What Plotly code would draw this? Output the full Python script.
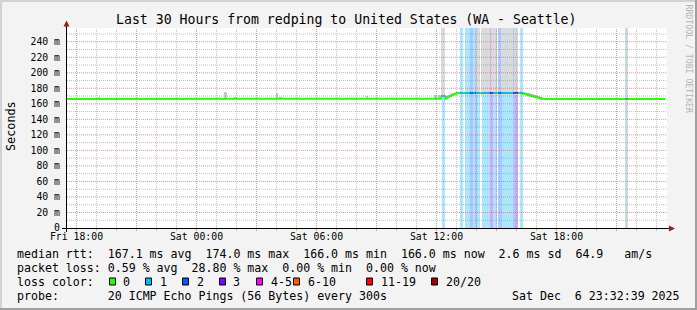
import plotly.graph_objects as go
from datetime import datetime, timedelta

# ---------------- data ----------------
x_range = ["2025-12-05 17:31:30", "2025-12-06 23:31:30"]
y_max_ms = 257.7

y_tick_vals = [0, 20, 40, 60, 80, 100, 120, 140, 160, 180, 200, 220, 240]
y_tick_text = ["0", "20 m", "40 m", "60 m", "80 m", "100 m", "120 m", "140 m",
               "160 m", "180 m", "200 m", "220 m", "240 m"]

x_tick_vals = ["2025-12-05 18:00", "2025-12-05 21:00", "2025-12-06 00:00", "2025-12-06 03:00",
               "2025-12-06 06:00", "2025-12-06 09:00", "2025-12-06 12:00", "2025-12-06 15:00",
               "2025-12-06 18:00", "2025-12-06 21:00"]
x_tick_text = ["Fri 18:00", "", "Sat 00:00", "", "Sat 06:00", "", "Sat 12:00", "", "Sat 18:00", ""]

# median rtt (ms)
median_times = ["2025-12-05 17:30", "2025-12-06 12:10", "2025-12-06 12:13", "2025-12-06 12:15",
                "2025-12-06 12:25", "2025-12-06 12:27", "2025-12-06 12:33", "2025-12-06 12:45",
                "2025-12-06 12:57", "2025-12-06 13:03", "2025-12-06 16:09", "2025-12-06 16:18",
                "2025-12-06 16:33", "2025-12-06 16:48", "2025-12-06 17:03", "2025-12-06 17:15",
                "2025-12-06 17:25", "2025-12-06 23:27"]
median_ms = [166.3, 166.3, 166.5, 170.0, 170.0, 166.5, 168.0, 170.5, 172.6, 174.0, 174.0,
             173.5, 171.5, 169.5, 168.0, 166.5, 166.3, 166.3]

# 5-minute steps with packet loss (Sat Dec 6)
loss_step_times = ["12:15", "12:20", "13:10", "13:15", "13:25", "13:30", "13:35", "13:40",
                   "13:45", "13:50", "13:55", "14:00", "14:05", "14:15", "14:20", "14:25",
                   "14:30", "14:35", "14:40", "14:45", "14:50", "14:55", "15:05", "15:10",
                   "15:15", "15:20", "15:25", "15:30", "15:35", "15:40", "15:45", "15:50",
                   "15:55", "16:00", "16:10", "16:15", "21:25", "21:30"]
loss_pings = [1, 1, 1, 1, 1, 1, 1, 2, 2, 1, 2, 1, 1, 1, 1, 1, 1, 1, 3, 3, 1, 1, 2, 2,
              1, 1, 1, 1, 1, 1, 1, 2, 3, 3, 1, 1, 1, 6]
loss_line_ms = [170.0, 170.0, 174.0, 174.0, 174.0, 174.0, 174.0, 174.0, 174.0, 174.0, 174.0,
                174.0, 174.0, 174.0, 174.0, 174.0, 174.0, 174.0, 174.0, 174.0, 174.0, 174.0,
                174.0, 174.0, 174.0, 174.0, 174.0, 174.0, 174.0, 174.0, 174.0, 174.0, 174.0,
                174.0, 174.0, 173.7, 166.3, 166.3]

# smoke reaching beyond the top of the graph (Sat Dec 6)
smoke_top_times = ["12:15", "12:20", "14:00", "14:05", "14:15", "14:20", "14:25", "14:30",
                   "14:35", "14:45", "14:50", "14:55", "15:15", "15:20", "15:25", "15:35",
                   "15:40", "15:45", "15:55", "16:00"]
smoke_top_base_ms = 171.0

# small smoke spikes in the quiet period
spike_times = ["2025-12-05 19:05", "2025-12-06 01:25", "2025-12-06 01:55", "2025-12-06 04:00",
               "2025-12-06 04:10", "2025-12-06 08:30", "2025-12-06 11:55", "2025-12-06 12:05"]
spike_top_ms = [168.5, 175.6, 169.0, 174.5, 169.0, 170.0, 171.0, 171.0]
spike_base_ms = 166.3

# smoke band around the median on the ramps (Sat Dec 6)
band1_times = ["12:25", "12:30", "12:35", "12:45", "12:55", "13:05"]
band1_lo = [165.5, 166.5, 167.0, 169.0, 171.0, 173.0]
band1_hi = [169.5, 170.0, 171.0, 173.0, 175.0, 176.0]
band2_times = ["16:10", "16:20", "16:35", "16:50", "17:05", "17:20"]
band2_lo = [173.0, 172.0, 170.0, 168.0, 166.5, 165.8]
band2_hi = [176.0, 175.5, 174.0, 172.0, 170.0, 168.0]

loss_bounds = [0, 1, 2, 3, 5, 10, 19, 20]
loss_labels = ["0", "1", "2", "3", "4-5", "6-10", "11-19", "20/20"]
loss_colors = ["#26ff00", "#00b8ff", "#0059ff", "#7e00ff", "#ff00ff", "#ff5500", "#ff0000", "#a00000"]

stats_line1 = "median rtt:  167.1 ms avg  174.0 ms max  166.0 ms min  166.0 ms now  2.6 ms sd  64.9   am/s"
stats_line2 = "packet loss: 0.59 % avg  28.80 % max  0.00 % min  0.00 % now"
probe_line = "probe:       20 ICMP Echo Pings (56 Bytes) every 300s"
date_line = "Sat Dec  6 23:32:39 2025"
title_text = "Last 30 Hours from redping to United States (WA - Seattle)"

# ---------------- helpers ----------------
DAY = "2025-12-06 "
STEP_MS = 300000
MONO = "DejaVu Sans Mono"


def loss_color(n):
    for b, c in zip(loss_bounds, loss_colors):
        if n <= b:
            return c
    return loss_colors[-1]


def rgba(hexc, a):
    h = hexc.lstrip("#")
    return "rgba(%d,%d,%d,%.3f)" % (int(h[0:2], 16), int(h[2:4], 16), int(h[4:6], 16), a)


def ax(px):
    return (px - 67) / 600.0


def ay(py):
    return (228 - py) / 200.0


def nb(s):
    return s.replace(" ", "\u00a0")


fig = go.Figure()

# loss background bars
fig.add_trace(go.Bar(
    x=[DAY + t for t in loss_step_times],
    y=[y_max_ms] * len(loss_step_times),
    base=0, width=STEP_MS, offset=0,
    marker=dict(color=[rgba(loss_color(n), 0x55 / 255) for n in loss_pings], line=dict(width=0)),
    hoverinfo="skip"))

# smoke to the top
fig.add_trace(go.Bar(
    x=[DAY + t for t in smoke_top_times],
    y=[y_max_ms - smoke_top_base_ms] * len(smoke_top_times),
    base=smoke_top_base_ms, width=STEP_MS, offset=0,
    marker=dict(color="#dadada", line=dict(width=0)), hoverinfo="skip"))

# smoke spikes
fig.add_trace(go.Bar(
    x=spike_times, y=[v - spike_base_ms for v in spike_top_ms], base=spike_base_ms,
    width=STEP_MS, offset=0, marker=dict(color="#c8c8c8", line=dict(width=0)), hoverinfo="skip"))

# smoke bands
for tt, lo, hi in [(band1_times, band1_lo, band1_hi), (band2_times, band2_lo, band2_hi)]:
    xs = [DAY + t for t in tt]
    fig.add_trace(go.Scatter(x=xs, y=lo, mode="lines", line=dict(width=0, color="#a8a8a8"),
                             hoverinfo="skip"))
    fig.add_trace(go.Scatter(x=xs, y=hi, mode="lines", line=dict(width=0, color="#a8a8a8"),
                             fill="tonexty", fillcolor="#a8a8a8", hoverinfo="skip"))

# median line
fig.add_trace(go.Scatter(x=median_times, y=median_ms, mode="lines",
                         line=dict(color=loss_colors[0], width=2), hoverinfo="skip"))

# loss-coloured median segments
for t, n, v in zip(loss_step_times, loss_pings, loss_line_ms):
    t0 = datetime.strptime(DAY + t, "%Y-%m-%d %H:%M")
    t1 = t0 + timedelta(minutes=5)
    fig.add_trace(go.Scatter(x=[t0, t1], y=[v, v], mode="lines",
                             line=dict(color=loss_color(n), width=2), hoverinfo="skip"))

shapes = []
MAJ = "rgba(225,90,90,0.65)"
MIN = "rgba(140,140,140,0.55)"

# vertical grid (hourly, major every 3h)
g = datetime(2025, 12, 5, 18, 0)
while g <= datetime(2025, 12, 6, 23, 0):
    col = MAJ if g.hour % 3 == 0 else MIN
    shapes.append(dict(type="line", xref="x", yref="paper", x0=g, x1=g, y0=0, y1=1,
                       line=dict(color=col, width=1, dash="1px,1px"), layer="above"))
    shapes.append(dict(type="line", xref="x", yref="paper", x0=g, x1=g, y0=ay(231), y1=ay(228.5),
                       line=dict(color=col, width=1), layer="above"))
    g += timedelta(hours=1)

# horizontal grid (10 ms, major every 20 ms)
for v in range(10, 251, 10):
    col = MAJ if v % 20 == 0 else MIN
    shapes.append(dict(type="line", xref="paper", yref="y", x0=0, x1=1, y0=v, y1=v,
                       line=dict(color=col, width=1, dash="1px,1px"), layer="above"))

# axes with arrows
shapes.append(dict(type="line", xref="paper", yref="paper", x0=ax(62), x1=ax(672), y0=ay(228.5),
                   y1=ay(228.5), line=dict(color="#000000", width=1), layer="above"))
shapes.append(dict(type="line", xref="paper", yref="paper", x0=ax(66.5), x1=ax(66.5), y0=ay(232),
                   y1=ay(24), line=dict(color="#000000", width=1), layer="above"))
shapes.append(dict(type="path", xref="paper", yref="paper",
                   path="M %f %f L %f %f L %f %f Z" % (ax(63.5), ay(26.5), ax(69.5), ay(26.5), ax(66.5), ay(20.5)),
                   fillcolor="#9b1c1c", line=dict(width=0), layer="above"))
shapes.append(dict(type="path", xref="paper", yref="paper",
                   path="M %f %f L %f %f L %f %f Z" % (ax(669), ay(225.5), ax(669), ay(231.5), ax(675), ay(228.5)),
                   fillcolor="#9b1c1c", line=dict(width=0), layer="above"))

# frame of the canvas
shapes.append(dict(type="rect", xref="paper", yref="paper", x0=ax(0), x1=ax(697), y0=ay(0), y1=ay(2),
                   fillcolor="#d2d2d2", line=dict(width=0)))
shapes.append(dict(type="rect", xref="paper", yref="paper", x0=ax(0), x1=ax(2), y0=ay(0), y1=ay(310),
                   fillcolor="#d2d2d2", line=dict(width=0)))
shapes.append(dict(type="rect", xref="paper", yref="paper", x0=ax(0), x1=ax(697), y0=ay(308), y1=ay(310),
                   fillcolor="#a0a0a0", line=dict(width=0)))
shapes.append(dict(type="rect", xref="paper", yref="paper", x0=ax(695), x1=ax(697), y0=ay(0), y1=ay(310),
                   fillcolor="#a0a0a0", line=dict(width=0)))

# legend swatches
sw_x = [109.5, 145.5, 182.5, 219.5, 256.5, 293.5, 366.5, 431.5]
lab_x = [122.0, 158.6, 196.0, 232.3, 270.0, 306.6, 380.0, 445.0]
for sx, c in zip(sw_x, loss_colors):
    shapes.append(dict(type="rect", xref="paper", yref="paper", x0=ax(sx), x1=ax(sx + 6),
                       y0=ay(285), y1=ay(278), fillcolor=c, line=dict(color="#000000", width=1)))

ann = []


def text(px, py, s, size, anchor="left", color="#000000", angle=0):
    ann.append(dict(xref="paper", yref="paper", x=ax(px), y=ay(py), text=nb(s), showarrow=False,
                    xanchor=anchor, yanchor="middle", textangle=angle, borderpad=0,
                    font=dict(family=MONO, size=size, color=color)))


text(346.6, 19.5, title_text, 13.2, anchor="center")
text(11, 126, "Seconds", 11.8, anchor="center", angle=-90)
text(688.5, 59, "RRDTOOL / TOBI OETIKER", 8.2, anchor="center", color="#b4b4b4", angle=90)
text(16, 254.3, stats_line1, 11.6)
text(16, 267.7, stats_line2, 11.6)
text(16, 281.5, "loss color:", 11.6)
for lx, lab in zip(lab_x, loss_labels):
    text(lx, 281.5, lab, 11.6)
text(16, 295.7, probe_line, 11.6)
text(681, 295.7, date_line, 11.6, anchor="right")

fig.update_layout(
    width=697, height=310, margin=dict(l=67, r=30, t=28, b=82, pad=0),
    paper_bgcolor="#f3f3f3", plot_bgcolor="#ffffff", showlegend=False,
    barmode="overlay", bargap=0, shapes=shapes, annotations=ann,
    font=dict(family=MONO, color="#000000"),
    xaxis=dict(type="date", range=x_range, tickmode="array", tickvals=x_tick_vals,
               ticktext=x_tick_text, ticks="", showgrid=False, zeroline=False, showline=False,
               tickfont=dict(family=MONO, size=9.8), fixedrange=True, ticklabelstandoff=1),
    yaxis=dict(range=[0, y_max_ms], tickmode="array", tickvals=y_tick_vals, ticktext=y_tick_text,
               ticks="", showgrid=False, zeroline=False, showline=False,
               tickfont=dict(family=MONO, size=9.8), fixedrange=True, ticklabelstandoff=6),
)

fig.write_html("out.html")
